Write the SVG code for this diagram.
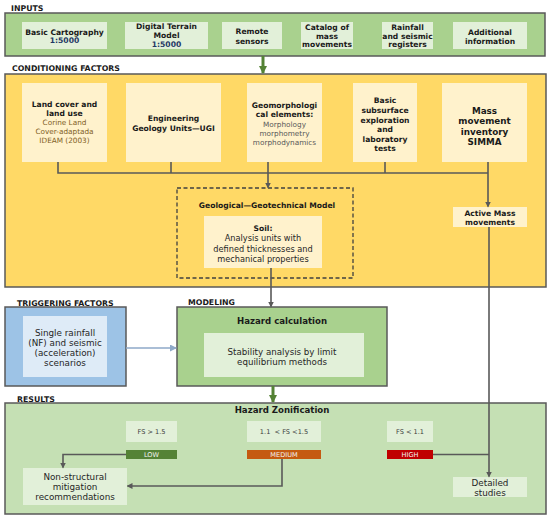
<svg xmlns="http://www.w3.org/2000/svg" width="550" height="519" viewBox="0 0 550 519">
<defs>
<style>
text{font-family:"DejaVu Sans",Verdana,sans-serif;text-anchor:middle;fill:#1a1a1a}
.lbl{font-weight:bold;font-size:7.8px;text-anchor:start}
.b{font-weight:bold;font-size:7.6px}
.bb{font-weight:bold;font-size:8.8px}
.h{font-weight:bold;font-size:8.6px}
.r{font-size:8.8px;fill:#262626}
.s{font-size:7.3px}
.sc{font-size:8.2px;fill:#262626}
.st{font-size:8.7px;fill:#262626}
.num{font-weight:bold;font-size:7.6px;fill:#1f3864}
.brown{fill:#7f6126}
.gray{fill:#595959}
.fs{font-size:6.6px;fill:#404040}
.bar{font-size:6.6px;fill:#f2f2f2}
.outer{stroke:#595959;stroke-width:1.5}
.green{fill:#a9d18e}
.lgreen{fill:#e2f0d9}
.yellow{fill:#ffd966}
.lyellow{fill:#fff2cc}
.conn{fill:none;stroke:#595959;stroke-width:1.6}
.garrow{fill:none;stroke:#548235;stroke-width:3}
.barrow{fill:none;stroke:#8ea9c8;stroke-width:1.6}
</style>
<marker id="ag" markerWidth="6" markerHeight="6" refX="5" refY="3" orient="auto" markerUnits="userSpaceOnUse"><path d="M0,0 L6,3 L0,6 Z" fill="#595959"/></marker>
<marker id="agr" markerWidth="8" markerHeight="8" refX="7" refY="4" orient="auto" markerUnits="userSpaceOnUse"><path d="M0,0 L8,4 L0,8 Z" fill="#548235"/></marker>
<marker id="ab" markerWidth="7" markerHeight="7" refX="6" refY="3.5" orient="auto" markerUnits="userSpaceOnUse"><path d="M0,0 L7,3.5 L0,7 Z" fill="#8ea9c8"/></marker>
</defs>

<!-- Section labels -->
<text class="lbl" x="11" y="11">INPUTS</text>
<text class="lbl" x="12" y="71">CONDITIONING FACTORS</text>
<text class="lbl" x="17" y="306">TRIGGERING FACTORS</text>
<text class="lbl" x="188" y="305">MODELING</text>
<text class="lbl" x="17" y="402">RESULTS</text>

<!-- Containers -->
<g id="inputs">
<rect class="outer green" x="5" y="13" width="540" height="43"/>
</g>
<g id="conditioning">
<rect class="outer yellow" x="5" y="74" width="541" height="213"/>
</g>
<g id="triggering">
<rect class="outer" fill="#9dc3e6" x="5" y="307" width="121" height="79"/>
</g>
<g id="modeling">
<rect class="outer green" x="177" y="307" width="210" height="79"/>
<text class="h" x="282" y="324">Hazard calculation</text>
</g>
<g id="results">
<rect class="outer" fill="#c5e0b4" x="5" y="403" width="541" height="111"/>
<text class="h" x="282" y="413">Hazard Zonification</text>
</g>

<!-- Inputs nodes -->
<g id="basic-cartography">
<rect class="lgreen" x="22" y="22" width="85" height="27"/>
<text class="b" x="64.5" y="34.5">Basic Cartography</text>
<text class="num" x="64.5" y="42.5">1:5000</text>
</g>
<g id="dtm">
<rect class="lgreen" x="125" y="22" width="83" height="27"/>
<text class="b" x="166.5" y="29">Digital Terrain</text>
<text class="b" x="166.5" y="38">Model</text>
<text class="num" x="166.5" y="46.5">1:5000</text>
</g>
<g id="remote-sensors">
<rect class="lgreen" x="222" y="22" width="60" height="27"/>
<text class="b" x="252" y="34">Remote</text>
<text class="b" x="252" y="43.5">sensors</text>
</g>
<g id="catalog">
<rect class="lgreen" x="301" y="22" width="52" height="27"/>
<text class="b" x="327" y="29.5">Catalog of</text>
<text class="b" x="327" y="38.5">mass</text>
<text class="b" x="327" y="47">movements</text>
</g>
<g id="rainfall">
<rect class="lgreen" x="382" y="22" width="51" height="27"/>
<text class="b" x="407.5" y="29.5">Rainfall</text>
<text class="b" x="407.5" y="38.5">and seismic</text>
<text class="b" x="407.5" y="47">registers</text>
</g>
<g id="additional">
<rect class="lgreen" x="453" y="22" width="74" height="27"/>
<text class="b" x="490" y="34.5">Additional</text>
<text class="b" x="490" y="43.5">information</text>
</g>

<!-- Conditioning nodes -->
<g id="land-cover">
<rect class="lyellow" x="22" y="83" width="85" height="79"/>
<text class="b" x="64.5" y="107">Land cover and</text>
<text class="b" x="64.5" y="116">land use</text>
<text class="s brown" x="64.5" y="125">Corine Land</text>
<text class="s brown" x="64.5" y="134">Cover-adaptada</text>
<text class="s brown" x="64.5" y="143">IDEAM (2003)</text>
</g>
<g id="engineering-geology">
<rect class="lyellow" x="126" y="83" width="95" height="79"/>
<text class="b" x="173.5" y="121">Engineering</text>
<text class="b" x="173.5" y="130.5">Geology Units—UGI</text>
</g>
<g id="geomorphological">
<rect class="lyellow" x="247" y="83" width="75" height="79"/>
<text class="b" x="284.5" y="108">Geomorphologi</text>
<text class="b" x="284.5" y="117">cal elements:</text>
<text class="s gray" x="284.5" y="126.5">Morphology</text>
<text class="s gray" x="284.5" y="135.5">morphometry</text>
<text class="s gray" x="284.5" y="145">morphodynamics</text>
</g>
<g id="subsurface">
<rect class="lyellow" x="353" y="83" width="64" height="79"/>
<text class="b" x="385" y="103">Basic</text>
<text class="b" x="385" y="112.5">subsurface</text>
<text class="b" x="385" y="122.5">exploration</text>
<text class="b" x="385" y="131.5">and</text>
<text class="b" x="385" y="141.5">laboratory</text>
<text class="b" x="385" y="151">tests</text>
</g>
<g id="simma">
<rect class="lyellow" x="442" y="83" width="85" height="79"/>
<text class="bb" x="484.5" y="113.5">Mass</text>
<text class="bb" x="484.5" y="124">movement</text>
<text class="bb" x="484.5" y="134.5">inventory</text>
<text class="bb" x="484.5" y="144.5">SIMMA</text>
</g>
<g id="geo-model">
<rect x="177" y="188" width="176" height="90" fill="none" stroke="#404040" stroke-width="1.3" stroke-dasharray="4,2.5"/>
<text class="b" x="267" y="208">Geological—Geotechnical Model</text>
</g>
<g id="soil">
<rect class="lyellow" x="204" y="216" width="118" height="52"/>
<text class="b" x="263" y="231">Soil:</text>
<text class="sc" x="263" y="241">Analysis units with</text>
<text class="sc" x="263" y="251.5">defined thicknesses and</text>
<text class="sc" x="263" y="261.5">mechanical properties</text>
</g>
<g id="active-mass">
<rect class="lyellow" x="453" y="207" width="74" height="20"/>
<text class="b" x="490" y="215.5">Active Mass</text>
<text class="b" x="490" y="225">movements</text>
</g>

<!-- Triggering / modeling nodes -->
<g id="scenarios">
<rect fill="#deebf7" x="23" y="316" width="84" height="61"/>
<text class="r" x="65" y="336">Single rainfall</text>
<text class="r" x="65" y="346">(NF) and seismic</text>
<text class="r" x="65" y="356">(acceleration)</text>
<text class="r" x="65" y="366">scenarios</text>
</g>
<g id="stability">
<rect class="lgreen" x="204" y="333" width="160" height="44"/>
<text class="st" x="282" y="355">Stability analysis by limit</text>
<text class="st" x="282" y="364.5">equilibrium methods</text>
</g>

<!-- Results nodes -->
<g id="fs-low">
<rect class="lgreen" x="126" y="421" width="51" height="21"/>
<text class="fs" x="151.5" y="434">FS &gt; 1.5</text>
<rect fill="#548235" x="126" y="450" width="51" height="9"/>
<text class="bar" x="151.5" y="457">LOW</text>
</g>
<g id="fs-medium">
<rect class="lgreen" x="247" y="421" width="74" height="21"/>
<text class="fs" x="284" y="434" xml:space="preserve">1.1  &lt; FS &lt;1.5</text>
<rect fill="#c55a11" x="247" y="450" width="74" height="9"/>
<text class="bar" x="284" y="457">MEDIUM</text>
</g>
<g id="fs-high">
<rect class="lgreen" x="387" y="421" width="46" height="21"/>
<text class="fs" x="410" y="434">FS &lt; 1.1</text>
<rect fill="#c00000" x="387" y="450" width="46" height="9"/>
<text class="bar" x="410" y="457">HIGH</text>
</g>
<g id="non-structural">
<rect class="lgreen" x="23" y="468" width="104" height="37"/>
<text class="r" x="75" y="480">Non-structural</text>
<text class="r" x="75" y="490">mitigation</text>
<text class="r" x="75" y="500">recommendations</text>
</g>
<g id="detailed">
<rect class="lgreen" x="453" y="477" width="74" height="20"/>
<text class="r" x="490" y="485.5">Detailed</text>
<text class="r" x="490" y="495.5">studies</text>
</g>

<!-- Connectors -->
<g id="connectors">
<path class="garrow" d="M263,56 V73" marker-end="url(#agr)"/>
<path class="conn" d="M58,162 V173 H488"/>
<path class="conn" d="M171,162 V173"/>
<path class="conn" d="M385,162 V173"/>
<path class="conn" d="M268,162 V187.5" marker-end="url(#ag)"/>
<path class="conn" d="M488,162 V206.5" marker-end="url(#ag)"/>
<path class="conn" d="M271,268 V306.5" marker-end="url(#ag)"/>
<path class="barrow" d="M126,348 H176" marker-end="url(#ab)"/>
<path class="garrow" d="M273,386 V402" marker-end="url(#agr)"/>
<path class="conn" d="M489,227 V476.5" marker-end="url(#ag)"/>
<path class="conn" d="M433,454.5 H489"/>
<path class="conn" d="M126,454.5 H63 V467.5" marker-end="url(#ag)"/>
<path class="conn" d="M282,459 V486 H127.5" marker-end="url(#ag)"/>
</g>
</svg>
